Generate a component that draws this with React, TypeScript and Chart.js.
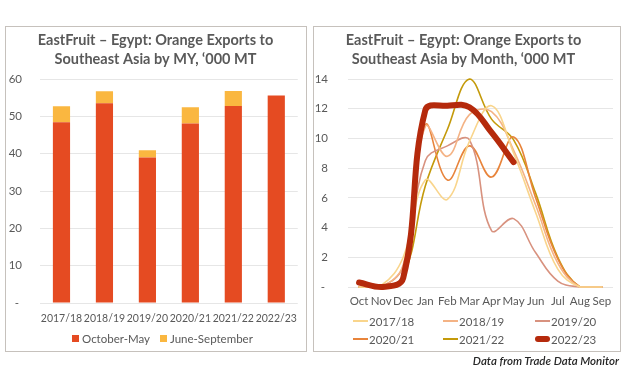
import React, { useEffect, useRef } from 'react';
import { Chart, registerables } from 'chart.js';

Chart.register(...registerables);

// ---------- data ----------
const years = ['2017/18', '2018/19', '2019/20', '2020/21', '2021/22', '2022/23'];
const octMay = [48.4, 53.5, 39.0, 48.1, 52.8, 55.6];
const junSep = [4.3, 3.2, 1.9, 4.3, 4.0, 0];
const barSeriesNames = ['October-May', 'June-September'];
const barYMax = 60;
const barYStep = 10;

const months = ['Oct', 'Nov', 'Dec', 'Jan', 'Feb', 'Mar', 'Apr', 'May', 'Jun', 'Jul', 'Aug', 'Sep'];
const my1718 = [0, 0.1, 2.0, 7.2, 5.9, 9.8, 12.2, 9.0, 5.0, 1.2, 0, 0];
const my1819 = [0, 0, 1.5, 10.8, 8.8, 11.6, 11.8, 9.2, 5.5, 1.6, 0, 0];
const my1920 = [0, 0, 1.4, 8.5, 9.5, 9.9, 3.8, 4.6, 2.3, 0.4, 0, 0];
const my2021 = [0, 0, 0.8, 10.9, 7.2, 9.5, 7.4, 10.1, 6.0, 1.9, 0, 0];
const my2122 = [0, 0, 0.7, 6.8, 10.6, 14.0, 11.3, 9.9, 6.3, 2.0, 0, 0];
const my2223 = [0.3, 0.0, 0.6, 11.9, 12.2, 12.1, 10.4, 8.4, null, null, null, null];
const lineSeriesNames = ['2017/18', '2018/19', '2019/20', '2020/21', '2021/22', '2022/23'];
const lineYMax = 14;
const lineYStep = 2;

// ---------- styles ----------
const FONT = 'Lato, "Open Sans", sans-serif';
const TEXT = '#595959';
const GRID = '#E6E6E6';
const barColors = ['#E54B22', '#FAB740'];
const lineColors = ['#F9D58C', '#F4B385', '#D8927F', '#E8843B', '#C49A0A', '#B52A0C'];

const zeroDash = (v: any) => (Number(v) === 0 ? '- ' : String(v));

export default function App() {
  const barRef = useRef<HTMLCanvasElement>(null);
  const lineRef = useRef<HTMLCanvasElement>(null);

  useEffect(() => {
    const tickFont = { family: FONT, size: 11.5 };
    const yearFont = { family: FONT, size: 10.5 };
    const titleFont = { family: FONT, size: 14.5, weight: 'bold' as const, lineHeight: '19px' };

    const bar = new Chart(barRef.current!, {
      type: 'bar',
      data: {
        labels: years,
        datasets: [
          { label: barSeriesNames[0], data: octMay, backgroundColor: barColors[0], stack: 's', barPercentage: 0.4, categoryPercentage: 1 },
          { label: barSeriesNames[1], data: junSep, backgroundColor: barColors[1], stack: 's', barPercentage: 0.4, categoryPercentage: 1 },
        ],
      },
      options: {
        responsive: false,
        animation: false,
        layout: { padding: { left: 0, right: 1, top: 0, bottom: 0 } },
        plugins: {
          title: {
            display: true,
            text: ['EastFruit – Egypt: Orange Exports to', 'Southeast Asia by MY, ‘000 MT'],
            color: TEXT,
            font: titleFont,
            padding: { top: 4, bottom: 10 },
          },
          legend: { display: false },
          tooltip: { enabled: false },
        },
        scales: {
          x: {
            stacked: true,
            grid: { display: false, drawTicks: false },
            border: { display: false },
            ticks: { color: TEXT, font: yearFont, padding: 9, autoSkip: false, maxRotation: 0 },
            afterFit: (s: any) => { s.height = 30; },
          },
          y: {
            stacked: true,
            min: 0,
            max: barYMax,
            grid: { color: GRID, drawTicks: false },
            border: { display: false },
            ticks: { stepSize: barYStep, color: TEXT, font: tickFont, padding: 18, callback: zeroDash },
            afterFit: (s: any) => { s.width = 34; },
          },
        },
      },
    });

    const series = [my1718, my1819, my1920, my2021, my2122, my2223];
    const line = new Chart(lineRef.current!, {
      type: 'line',
      data: {
        labels: months,
        datasets: series.map((d, i) => ({
          label: lineSeriesNames[i],
          data: d,
          borderColor: lineColors[i],
          backgroundColor: lineColors[i],
          borderWidth: i === 5 ? 6 : 1.6,
          pointRadius: 0,
          tension: 0.4,
          fill: false,
          clip: false as any,
          borderCapStyle: 'round' as const,
          borderJoinStyle: 'round' as const,
          order: i === 5 ? 0 : 1,
        })),
      },
      options: {
        responsive: false,
        animation: false,
        layout: { padding: { left: 0, right: 8, top: 0, bottom: 0 } },
        plugins: {
          title: {
            display: true,
            text: ['EastFruit – Egypt: Orange Exports to', 'Southeast Asia by Month, ‘000 MT'],
            color: TEXT,
            font: titleFont,
            padding: { top: 4, bottom: 10 },
          },
          legend: { display: false },
          tooltip: { enabled: false },
        },
        scales: {
          x: {
            offset: true,
            grid: { display: false, drawTicks: false },
            border: { display: false },
            ticks: { color: TEXT, font: tickFont, padding: 7, autoSkip: false, maxRotation: 0 },
            afterFit: (s: any) => { s.height = 30; },
          },
          y: {
            min: 0,
            max: lineYMax,
            grid: { color: GRID, drawTicks: false },
            border: { display: false },
            ticks: { stepSize: lineYStep, color: TEXT, font: tickFont, padding: 20, callback: zeroDash },
            afterFit: (s: any) => { s.width = 34; },
          },
        },
      },
    });

    return () => { bar.destroy(); line.destroy(); };
  }, []);

  const lineLegendCols = [353, 443, 535];
  const lineLegendRows = [321, 339];
  const barLegendCols = [72, 160];
  const barLegendRow = 338;

  return (
    <div style={{ position: 'absolute', left: 0, top: 0, width: 626, height: 379, background: '#fff', fontFamily: FONT, overflow: 'hidden' }}>
      <div style={{ position: 'absolute', left: 5, top: 26, width: 302, height: 326, boxSizing: 'border-box', border: '1.5px solid #C6C1BC' }} />
      <div style={{ position: 'absolute', left: 313, top: 26, width: 308, height: 326, boxSizing: 'border-box', border: '1.5px solid #C6C1BC' }} />
      <canvas ref={barRef} width={300} height={306} style={{ position: 'absolute', left: 6, top: 27, width: 300, height: 306 }} />
      <canvas ref={lineRef} width={307} height={290} style={{ position: 'absolute', left: 314, top: 27, width: 307, height: 290 }} />
      {barSeriesNames.map((name, i) => (
        <div key={name} style={{ position: 'absolute', left: barLegendCols[i], top: barLegendRow - 8, height: 16, display: 'flex', alignItems: 'center', fontSize: 11.5, color: TEXT, whiteSpace: 'nowrap' }}>
          <span style={{ display: 'inline-block', width: 7, height: 7, background: barColors[i], marginRight: 3 }} />
          <span>{name}</span>
        </div>
      ))}
      {lineSeriesNames.map((name, i) => {
        const col = i % 3;
        const row = Math.floor(i / 3);
        const thick = i === 5;
        return (
          <div key={name} style={{ position: 'absolute', left: lineLegendCols[col], top: lineLegendRows[row] - 8, height: 16, display: 'flex', alignItems: 'center', fontSize: 11.5, color: TEXT, whiteSpace: 'nowrap' }}>
            <span style={{ display: 'inline-block', width: 15, height: thick ? 6 : 2, borderRadius: thick ? 3 : 0, background: lineColors[i], marginRight: 1 }} />
            <span>{name}</span>
          </div>
        );
      })}
      <div style={{ position: 'absolute', right: 7, top: 354, fontSize: 11.5, fontStyle: 'italic', fontWeight: 600, color: '#262626', whiteSpace: 'nowrap' }}>
        Data from Trade Data Monitor
      </div>
    </div>
  );
}
